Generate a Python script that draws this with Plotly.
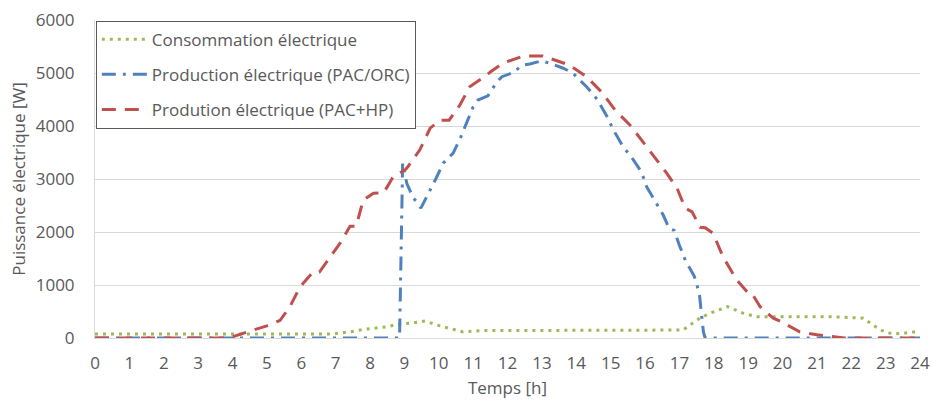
import plotly.graph_objects as go

# ---- data (hours, W) ----
t_cons = [0, 6.9, 7.4, 7.9, 8.5, 8.8, 9.25, 9.6, 9.95, 10.3, 10.7, 11.3, 17.1, 17.6, 17.9, 18.4,
          18.85, 19.25, 19.9, 20.5, 21.0, 21.5, 22.35, 22.55, 22.85, 23.2, 23.6, 24]
p_cons = [75, 75, 115, 170, 210, 260, 285, 320, 245, 185, 115, 140, 150, 375, 470, 590,
          470, 400, 400, 410, 410, 400, 375, 280, 150, 75, 95, 130]

t_orc = [0, 8.86, 8.95, 9.07, 9.26, 9.36, 9.48, 9.65, 9.92, 10.13,
         10.42, 10.64, 10.82, 11.0, 11.14, 11.43, 11.69, 11.84, 12.13, 12.45,
         12.65, 13.0, 13.38, 13.62, 13.9, 14.3, 14.6, 14.87, 15.07, 15.36,
         15.62, 15.9, 16.05, 16.34, 16.53, 16.7, 16.85, 17.0, 17.17, 17.43,
         17.58, 17.63, 17.7, 17.75, 24]
p_orc = [0, 0, 3300, 2920, 2640, 2570, 2450, 2660, 3010, 3300,
         3490, 3790, 4090, 4360, 4490, 4570, 4830, 4930, 5000, 5150,
         5170, 5230, 5150, 5090, 5000, 4740, 4510, 4210, 3940, 3610,
         3400, 3130, 2850, 2540, 2320, 2070, 2030, 1750, 1470, 1170,
         850, 530, 110, 0, 0]

t_hp = [0, 3.9, 4.5, 5.0, 5.38, 5.67, 5.96, 6.34, 6.53, 7.13, 7.42, 7.6, 7.8, 8.1, 8.4,
        8.68, 9.02, 9.1, 9.45, 9.75, 10.04, 10.3, 10.62, 10.9, 11.4, 11.5, 11.88, 12.46,
        13.03, 13.52, 13.8, 14.3, 14.74, 15.13, 15.56, 15.94, 16.3, 16.63, 16.93, 17.02,
        17.17, 17.37, 17.6, 17.75, 17.98, 18.27, 18.67, 19.0, 19.1, 19.35, 19.73, 19.93,
        20.5, 21.0, 21.5, 21.8, 24]
p_hp = [0, 0, 130, 230, 330, 590, 960, 1245, 1245, 1790, 2110, 2110, 2600, 2730, 2740,
        3050, 3170, 3230, 3550, 3960, 4110, 4110, 4400, 4740, 4960, 5020, 5190, 5320,
        5320, 5210, 5150, 4930, 4640, 4300, 4020, 3700, 3400, 3110, 2830, 2700,
        2450, 2380, 2090, 2080, 1975, 1530, 1095, 850, 850, 590, 375, 320,
        115, 60, 20, 0, 0]

x_ticks = list(range(0, 25))
y_ticks = [0, 1000, 2000, 3000, 4000, 5000, 6000]

names = ["Consommation électrique", "Production électrique (PAC/ORC)", "Prodution électrique (PAC+HP)"]

FONT = "Open Sans, sans-serif"
TXT = "#595959"

fig = go.Figure()
fig.add_trace(go.Scatter(x=t_cons, y=p_cons, mode="lines", name=names[0], legendgroup="a",
                         line=dict(color="#9BBB59", width=3, dash="3px,5px")))
fig.add_trace(go.Scatter(x=t_orc, y=p_orc, mode="lines", name=names[1], legendgroup="b",
                         line=dict(color="#4F81BD", width=3, dash="14px,7px,3px,7px")))
fig.add_trace(go.Scatter(x=t_hp, y=p_hp, mode="lines", name=names[2], legendgroup="c",
                         line=dict(color="#C0504D", width=3, dash="14px,9px")))

fig.update_layout(
    width=932, height=403,
    margin=dict(l=95, r=12, t=20, b=65),
    paper_bgcolor="white", plot_bgcolor="white",
    font=dict(family=FONT, size=17, color=TXT),
    legend=dict(x=0.001, y=0.998, xanchor="left", yanchor="top",
                bgcolor="white", bordercolor="#595959", borderwidth=1,
                tracegroupgap=10, itemwidth=45,
                font=dict(family=FONT, size=17, color=TXT)),
    xaxis=dict(range=[0, 24], tickvals=x_ticks, ticktext=[str(v) for v in x_ticks],
               showgrid=False, showline=True, linecolor="#d9d9d9", linewidth=1,
               zeroline=False, ticks="", ticklabelstandoff=10, automargin=False,
               title=dict(text="Temps [h]", standoff=8, font=dict(size=17))),
    yaxis=dict(range=[0, 6000], tickvals=y_ticks, ticktext=[str(v) for v in y_ticks],
               showgrid=True, gridcolor="#d9d9d9", gridwidth=1,
               showline=True, linecolor="#d9d9d9", linewidth=1,
               zeroline=False, ticks="", ticklabelstandoff=16, automargin=False,
               title=dict(text="Puissance électrique [W]", standoff=5, font=dict(size=17))),
)

# remove the page's default body margin so the figure fills the 932x403 window exactly
fig.write_html(
    "out.html",
    config={"displayModeBar": False},
    post_script="document.body.style.margin='0px';document.documentElement.style.overflow='hidden';",
)
